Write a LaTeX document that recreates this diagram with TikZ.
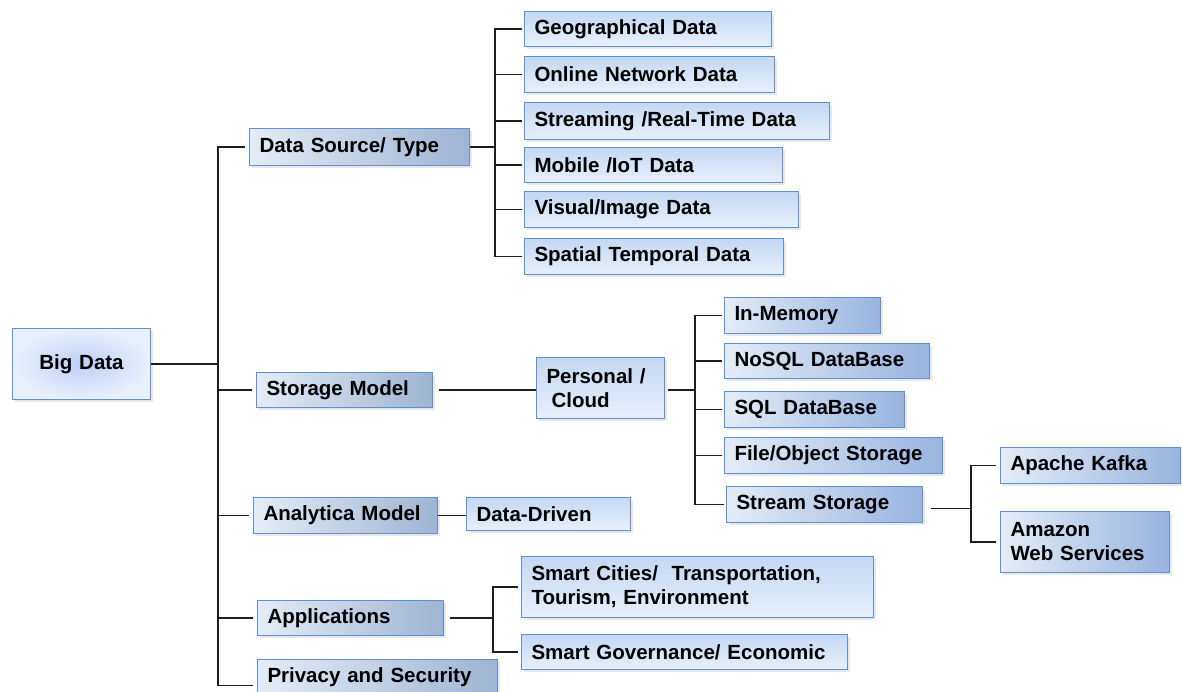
\documentclass[tikz,border=0pt]{standalone}
\usepackage{fontspec}
\setmainfont{Liberation Sans}
\usepackage{xcolor}
\usetikzlibrary{positioning,calc,shadows}

\definecolor{edgeblue}{RGB}{95,145,205}
\definecolor{leaftop}{RGB}{196,216,242}
\definecolor{leafbot}{RGB}{232,240,251}
\definecolor{midleft}{RGB}{228,236,246}
\definecolor{midright}{RGB}{158,180,210}
\definecolor{storeright}{RGB}{152,180,224}
\definecolor{linegray}{RGB}{30,30,30}

\tikzset{
    box/.style={draw=edgeblue, line width=1pt, anchor=north west, align=left,
        inner xsep=10pt, inner ysep=2pt,
        font=\fontsize{20.5}{24}\selectfont\bfseries,
        drop shadow={opacity=0.18, shadow xshift=2pt, shadow yshift=-2pt}},
    rootbox/.style={box, align=center, inner color=leaftop!90!blue!80, outer color=leafbot},
    typebox/.style={box, left color=midleft, right color=midright},
    leafbox/.style={box, top color=leaftop, bottom color=leafbot},
    storebox/.style={box, left color=midleft, right color=storeright},
    link/.style={draw=linegray, line width=1.3pt}
}

\begin{document}
\begin{tikzpicture}[x=1pt, y=-1pt]
    \useasboundingbox (0,0) rectangle (1182,691);

    % Root
    \node[rootbox, text width=118, minimum height=71] (big) at (12,328) {Big Data};

    % First level
    \node[typebox, text width=200, minimum height=37] (src) at (249,128) {Data Source/ Type};
    \node[typebox, text width=156, minimum height=35] (stor) at (256,372) {Storage Model};
    \node[typebox, text width=164, minimum height=36] (ana) at (253,497) {Analytica Model};
    \node[typebox, text width=166, minimum height=35] (app) at (257,600) {Applications};
    \node[typebox, text width=220, minimum height=36] (priv) at (257,659) {Privacy and Security};

    % Data sources
    \node[leafbox, text width=227, minimum height=35] (geo) at (524,11) {Geographical Data};
    \node[leafbox, text width=230, minimum height=36] (onl) at (524,56) {Online Network Data};
    \node[leafbox, text width=285, minimum height=37] (strm) at (524,102) {Streaming /Real-Time Data};
    \node[leafbox, text width=238, minimum height=35] (mob) at (524,147) {Mobile /IoT Data};
    \node[leafbox, text width=254, minimum height=36] (vis) at (524,191) {Visual/Image Data};
    \node[leafbox, text width=239, minimum height=36] (spat) at (524,238) {Spatial Temporal Data};

    % Storage
    \node[leafbox, text width=108, minimum height=61] (pc) at (536,357) {Personal /\\\hspace{5pt}Cloud};
    \node[storebox, text width=136, minimum height=36] (mem) at (724,297) {In-Memory};
    \node[storebox, text width=185, minimum height=35] (nosql) at (724,343) {NoSQL DataBase};
    \node[storebox, text width=160, minimum height=36] (sql) at (724,391) {SQL DataBase};
    \node[storebox, text width=198, minimum height=36] (file) at (724,437) {File/Object Storage};
    \node[storebox, text width=176, minimum height=36] (sstor) at (726,486) {Stream Storage};
    \node[storebox, text width=160, minimum height=36] (kafka) at (1000,447) {Apache Kafka};
    \node[storebox, text width=149, minimum height=61] (aws) at (1000,511) {Amazon\\Web Services};

    % Analytics and applications
    \node[leafbox, text width=144, minimum height=33] (dd) at (466,497) {Data-Driven};
    \node[leafbox, text width=332, minimum height=61] (city) at (521,556) {Smart Cities/\ \ Transportation,\\Tourism, Environment};
    \node[leafbox, text width=306, minimum height=35] (gov) at (521,634) {Smart Governance/ Economic};

    % Links
    \draw[link] (big.east) -- ++(67,0) coordinate (bus1);
    \foreach \n in {src,stor,ana,app}
        \draw[link] (bus1) |- ([xshift=-4pt]\n.west);
    \draw[link] (bus1) |- ([xshift=-4pt,yshift=-8pt]priv.west);

    \draw[link] (src.east) -- ++(25,0) coordinate (bus2);
    \foreach \n in {geo,onl,strm,mob,vis,spat}
        \draw[link] (bus2) |- ([xshift=-2pt]\n.west);

    \draw[link] ([xshift=6pt]stor.east) -- (stor.east -| pc.west);
    \draw[link] ([xshift=3pt]pc.east |- stor.east) -- ++(27,0) coordinate (bus3);
    \foreach \n in {mem,nosql,sql,file,sstor}
        \draw[link] (bus3) |- ([xshift=-2pt]\n.west);

    \draw[link] ([xshift=8pt,yshift=-4pt]sstor.east) -- ++(40,0) coordinate (bus4);
    \foreach \n in {kafka,aws}
        \draw[link] (bus4) |- ([xshift=-4pt]\n.west);

    \draw[link] (ana.east) -- (ana.east -| dd.west);

    \draw[link] ([xshift=6pt]app.east) -- ++(43,0) coordinate (bus5);
    \foreach \n in {city,gov}
        \draw[link] (bus5) |- ([xshift=-3pt]\n.west);
\end{tikzpicture}
\end{document}
